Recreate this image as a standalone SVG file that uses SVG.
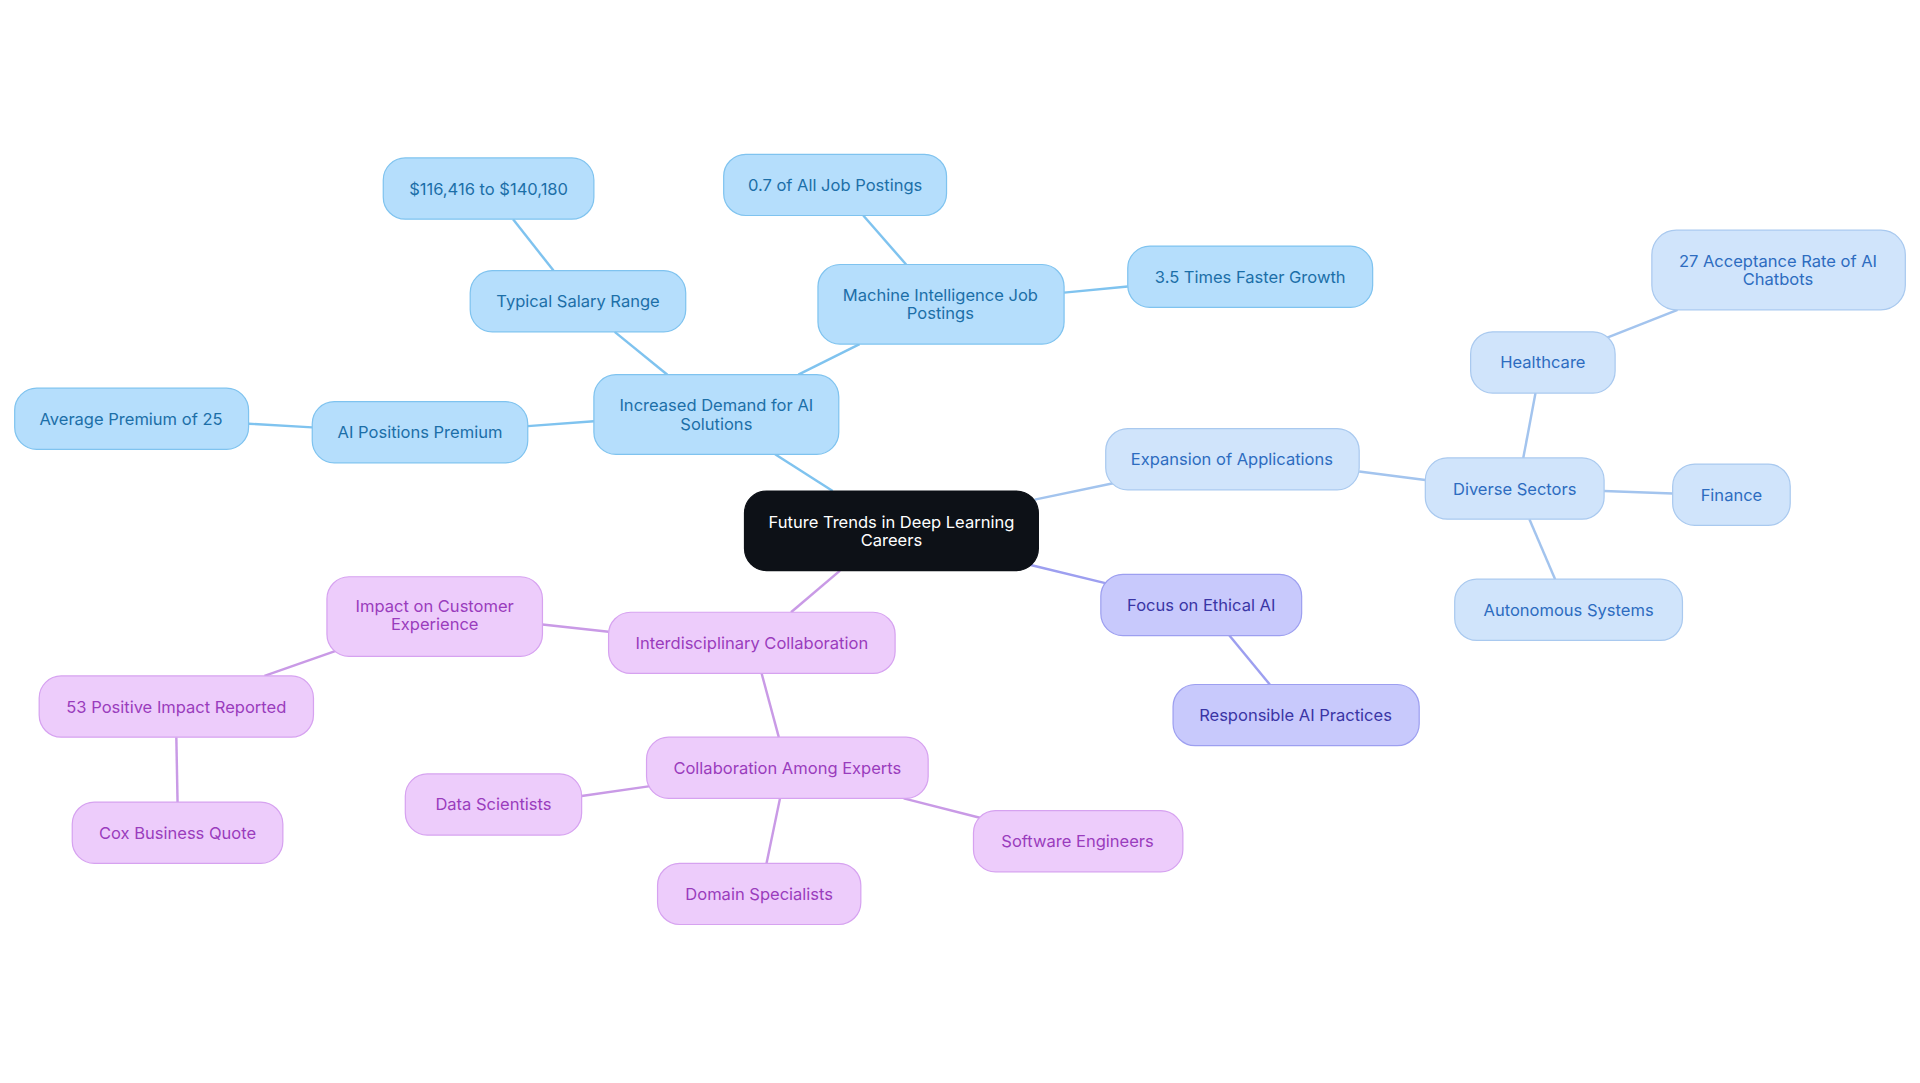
<svg xmlns="http://www.w3.org/2000/svg" width="1920" height="1083" viewBox="0 0 1920 1083">
<style>
text{font-family:Inter,"Noto Sans","Liberation Sans",sans-serif;font-size:13.5px;text-anchor:middle;dominant-baseline:central}
rect{stroke-width:1}
.b rect{fill:#b5defc;stroke:#7fc3ef}.b text{fill:#1c6fa8}
.l rect{fill:#d0e4fb;stroke:#a9c9ef}.l text{fill:#2d6cc0}
.v rect{fill:#c8c9fc;stroke:#9d9ff0}.v text{fill:#3a35a5}
.p rect{fill:#edccfb;stroke:#d6a2f0}.p text{fill:#9a3cbd}
#edges line{stroke-width:2}
.eb{stroke:#7fc3ef}.el{stroke:#a3c4ee}.ev{stroke:#9d9ff0}.ep{stroke:#c99ae6}
</style>
<rect width="1920" height="1083" fill="#fff"/>
<g transform="scale(1.2245)">
<g id="edges">
<line class="eb" x1="680" y1="401" x2="633" y2="371"/>
<line class="eb" x1="652" y1="306" x2="702" y2="281"/>
<line class="eb" x1="740" y1="216" x2="705" y2="176"/>
<line class="eb" x1="869" y1="239" x2="921" y2="234"/>
<line class="eb" x1="545" y1="306" x2="502" y2="271"/>
<line class="eb" x1="452" y1="221" x2="419" y2="179"/>
<line class="eb" x1="485" y1="344" x2="431" y2="348"/>
<line class="eb" x1="255" y1="349" x2="203" y2="346"/>
<line class="el" x1="845" y1="408" x2="912" y2="394"/>
<line class="el" x1="1110" y1="385" x2="1164" y2="392"/>
<line class="el" x1="1244" y1="374" x2="1254" y2="321"/>
<line class="el" x1="1312" y1="276" x2="1370" y2="253"/>
<line class="el" x1="1310" y1="401" x2="1366" y2="403"/>
<line class="el" x1="1249" y1="424" x2="1270" y2="473"/>
<line class="ev" x1="840" y1="461" x2="906" y2="477"/>
<line class="ev" x1="1004" y1="519" x2="1037" y2="559"/>
<line class="ep" x1="686" y1="466" x2="646" y2="500"/>
<line class="ep" x1="497" y1="516" x2="443" y2="510"/>
<line class="ep" x1="276" y1="531" x2="216" y2="552"/>
<line class="ep" x1="144" y1="602" x2="145" y2="655"/>
<line class="ep" x1="622" y1="550" x2="636" y2="602"/>
<line class="ep" x1="531" y1="642" x2="475" y2="650"/>
<line class="ep" x1="637" y1="652" x2="626" y2="705"/>
<line class="ep" x1="738" y1="652" x2="805" y2="669"/>
</g>
<g id="root"><rect x="608" y="401" width="240" height="65" rx="18" fill="#0d1117" stroke="#0d1117"/><text x="728" y="426" fill="#fff">Future Trends in Deep Learning</text><text x="728" y="441" fill="#fff">Careers</text></g>
<g id="n1" class="b"><rect x="485" y="306" width="200" height="65" rx="18"/><text x="585" y="331">Increased Demand for AI</text><text x="585" y="346">Solutions</text></g>
<g id="n2" class="b"><rect x="668" y="216" width="201" height="65" rx="18"/><text x="768" y="241">Machine Intelligence Job</text><text x="768" y="256">Postings</text></g>
<g id="n3" class="b"><rect x="591" y="126" width="182" height="50" rx="18"/><text x="682" y="151">0.7 of All Job Postings</text></g>
<g id="n4" class="b"><rect x="921" y="201" width="200" height="50" rx="18"/><text x="1021" y="226">3.5 Times Faster Growth</text></g>
<g id="n5" class="b"><rect x="384" y="221" width="176" height="50" rx="18"/><text x="472" y="246">Typical Salary Range</text></g>
<g id="n6" class="b"><rect x="313" y="129" width="172" height="50" rx="18"/><text x="399" y="154">$116,416 to $140,180</text></g>
<g id="n7" class="b"><rect x="255" y="328" width="176" height="50" rx="18"/><text x="343" y="353">AI Positions Premium</text></g>
<g id="n8" class="b"><rect x="12" y="317" width="191" height="50" rx="18"/><text x="107" y="342">Average Premium of 25</text></g>
<g id="n9" class="l"><rect x="903" y="350" width="207" height="50" rx="18"/><text x="1006" y="375">Expansion of Applications</text></g>
<g id="n10" class="l"><rect x="1164" y="374" width="146" height="50" rx="18"/><text x="1237" y="399">Diverse Sectors</text></g>
<g id="n11" class="l"><rect x="1201" y="271" width="118" height="50" rx="18"/><text x="1260" y="296">Healthcare</text></g>
<g id="n12" class="l"><rect x="1349" y="188" width="207" height="65" rx="20"/><text x="1452" y="213">27 Acceptance Rate of AI</text><text x="1452" y="228">Chatbots</text></g>
<g id="n13" class="l"><rect x="1366" y="379" width="96" height="50" rx="18"/><text x="1414" y="404">Finance</text></g>
<g id="n14" class="l"><rect x="1188" y="473" width="186" height="50" rx="18"/><text x="1281" y="498">Autonomous Systems</text></g>
<g id="n15" class="v"><rect x="899" y="469" width="164" height="50" rx="18"/><text x="981" y="494">Focus on Ethical AI</text></g>
<g id="n16" class="v"><rect x="958" y="559" width="201" height="50" rx="18"/><text x="1058" y="584">Responsible AI Practices</text></g>
<g id="n17" class="p"><rect x="497" y="500" width="234" height="50" rx="18"/><text x="614" y="525">Interdisciplinary Collaboration</text></g>
<g id="n18" class="p"><rect x="267" y="471" width="176" height="65" rx="18"/><text x="355" y="495">Impact on Customer</text><text x="355" y="510">Experience</text></g>
<g id="n19" class="p"><rect x="32" y="552" width="224" height="50" rx="18"/><text x="144" y="577">53 Positive Impact Reported</text></g>
<g id="n20" class="p"><rect x="59" y="655" width="172" height="50" rx="18"/><text x="145" y="680">Cox Business Quote</text></g>
<g id="n21" class="p"><rect x="528" y="602" width="230" height="50" rx="18"/><text x="643" y="627">Collaboration Among Experts</text></g>
<g id="n22" class="p"><rect x="331" y="632" width="144" height="50" rx="18"/><text x="403" y="657">Data Scientists</text></g>
<g id="n23" class="p"><rect x="537" y="705" width="166" height="50" rx="18"/><text x="620" y="730">Domain Specialists</text></g>
<g id="n24" class="p"><rect x="795" y="662" width="171" height="50" rx="18"/><text x="880" y="687">Software Engineers</text></g>
</g>
</svg>
